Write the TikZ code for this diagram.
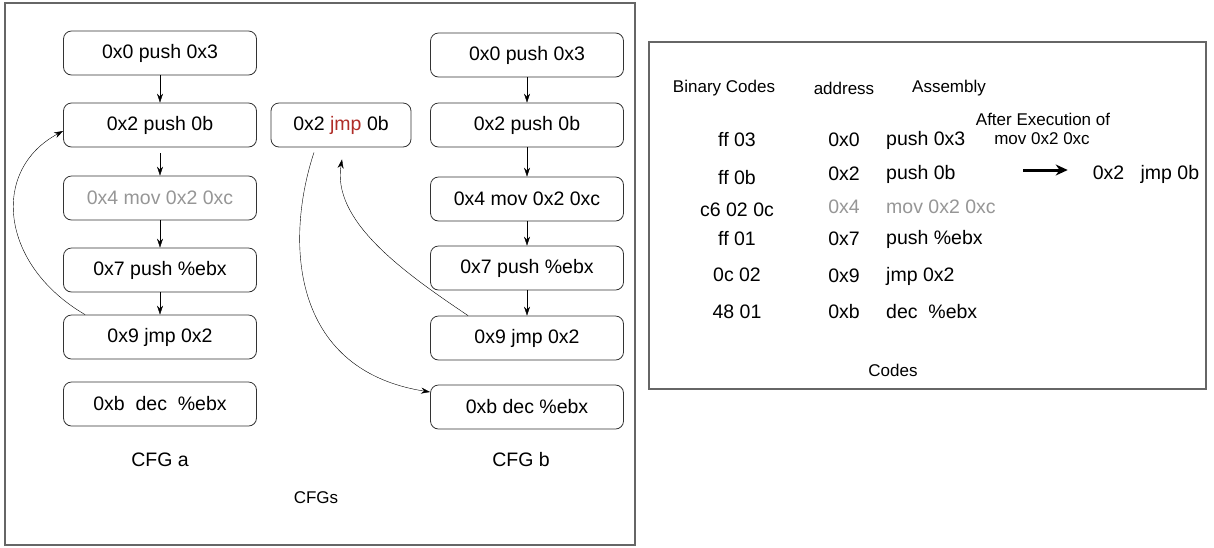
\documentclass[tikz,border=0pt]{standalone}
\usepackage{fontspec}
\setmainfont{Liberation Sans}
\usetikzlibrary{arrows.meta}

\definecolor{jmpred}{RGB}{175,45,40}
\definecolor{dimgray}{RGB}{150,150,150}

\begin{document}
\begin{tikzpicture}[
        x=1pt, y=-1pt,
        block/.style={draw=black!80, line width=0.8pt, rounded corners=8pt,
            minimum width=193pt, minimum height=44pt, inner sep=0pt,
            font=\fontsize{19.5}{22}\selectfont},
        txt/.style={inner sep=0pt, font=\fontsize{19.5}{22}\selectfont},
        small/.style={inner sep=0pt, font=\fontsize{17}{20}\selectfont},
        frame/.style={draw=black!60, line width=1.4pt},
        >={Stealth[length=9pt, width=6pt]}]

        \useasboundingbox (0,0) rectangle (1214,547);

        % --- LEFT PANEL: CFGs ---
        \draw[frame] (5,3) rectangle (635,545);

        % CFG a
        \node[block] (a1) at (160,53) {0x0 push 0x3};
        \node[block] (a2) at (160,125) {0x2 push 0b};
        \node[block, text=dimgray] (a3) at (160,198) {0x4 mov 0x2 0xc};
        \node[block] (a4) at (160,270) {0x7 push \%ebx};
        \node[block] (a5) at (160,337) {0x9 jmp 0x2};
        \node[block] (a6) at (160,404) {0xb\ \ dec\ \ \%ebx};

        \draw[->] (a1) -- (a2);
        \draw[->] ([yshift=-6pt]a2.south) -- (a3);
        \draw[->] (a3) -- (a4);
        \draw[->] (a4) -- (a5);
        % loop back of jmp 0x2
        \draw[->] ([xshift=22pt]a5.north west) .. controls (0,265) and (-10,170) .. ([yshift=-6pt]a2.west);

        \node[txt] (cfga) at (160,460) {CFG a};

        % the rewritten instruction
        \node[block, minimum width=140pt] (mid) at (341,125) {0x2 \textcolor{jmpred}{jmp} 0b};

        % CFG b
        \node[block] (b1) at (527,55) {0x0 push 0x3};
        \node[block] (b2) at (527,125) {0x2 push 0b};
        \node[block] (b3) at (527,199) {0x4 mov 0x2 0xc};
        \node[block] (b4) at (527,268) {0x7 push \%ebx};
        \node[block] (b5) at (527,338) {0x9 jmp 0x2};
        \node[block] (b6) at (527,407) {0xb dec \%ebx};

        \draw[->] (b1) -- (b2);
        \draw[->] (b2) -- (b3);
        \draw[->] (b3) -- (b4);
        \draw[->] (b4) -- (b5);
        % jumps through the new instruction
        \draw[->] ([xshift=38pt]b5.north west) .. controls (400,270) and (332,220) .. ([xshift=1pt, yshift=-12pt]mid.south);
        \draw[->] ([xshift=-27pt, yshift=-5pt]mid.south) .. controls (285,240) and (290,370) .. ([yshift=15pt]b6.west);

        \node[txt] (cfgb) at (521,460) {CFG b};
        \node[small] (cfgs) at (316,498) {CFGs};

        % --- RIGHT PANEL: Codes ---
        \draw[frame] (649,42) rectangle (1206,389);

        \node[small] (hbin) at (724,88) {Binary Codes};
        \node[small] (haddr) at (844,88) {address};
        \node[small] (hasm) at (949,88) {Assembly};

        \foreach \bin/\yb/\addr/\asm/\y/\col [count=\i] in {
                ff 03/140/0x0/push 0x3/140/black,
                ff 0b/178/0x2/push 0b/174/black,
                c6 02 0c/210/0x4/mov 0x2 0xc/207/dimgray,
                ff 01/239/0x7/push \%ebx/239/black,
                0c 02/275/0x9/jmp 0x2/276/black,
                48 01/312/0xb/dec\ \ \%ebx/312/black} {
            \node[txt] (bin\i) at (737,\yb) {\bin};
            \node[txt, text=\col] (addr\i) at (844,\y) {\addr};
            \node[txt, text=\col, anchor=west] (asm\i) at (886,\y) {\asm};
        }

        \node[small] (after) at (1043,119) {After Execution of};
        \node[small] (aftermov) at (1042,139) {mov 0x2 0xc};
        \node[txt] (res) at (1146,174) {0x2\ \ \ jmp 0b};
        \coordinate (arrstart) at (1023,170);
        \draw[line width=3pt, -{Stealth[length=12pt, width=11pt]}] (arrstart) -- ([xshift=-25pt, yshift=4pt]res.west);

        \node[small] (codes) at (893,370) {Codes};

    \end{tikzpicture}
\end{document}
